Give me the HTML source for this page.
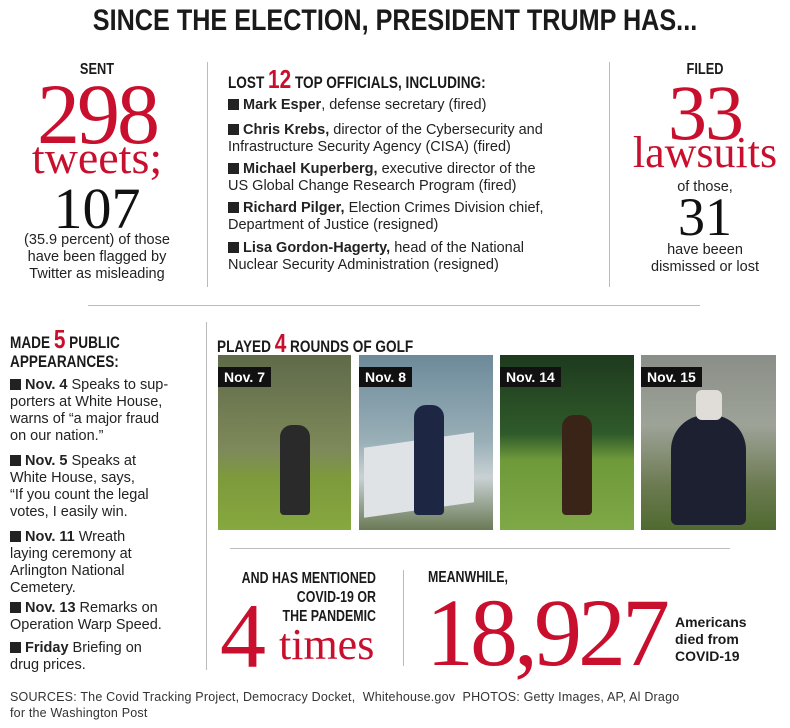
<!DOCTYPE html>
<html><head><meta charset="utf-8"><style>
body{margin:0;background:#fff;width:790px;height:728px;position:relative;overflow:hidden;font-family:"Liberation Sans",sans-serif;color:#222}
.a{position:absolute;white-space:nowrap}
.hd{font-family:"Liberation Sans",sans-serif;font-weight:bold;color:#1a1a1a;transform-origin:left top;transform:scaleX(0.8)}
.red{color:#c8102e}
.serif{font-family:"Liberation Serif",serif}
.t{font-size:14.5px;line-height:17px}
.sq{display:inline-block;width:11px;height:11px;background:#222;margin-right:4px;vertical-align:-1px}
.vl{position:absolute;width:1px;background:#bbb}
.hl{position:absolute;height:1px;background:#bbb}
.ph{position:absolute;top:355px;height:175px;overflow:hidden}
.lab{position:absolute;left:0;top:12px;background:#111;color:#fff;font-weight:bold;font-size:14px;padding:2px 6px}
</style></head><body>
<div class="a hd" style="left:0;width:790px;text-align:center;top:4px;font-size:30px;transform-origin:center top;transform:scaleX(0.84)">SINCE THE ELECTION, PRESIDENT TRUMP HAS...</div>

<div class="a hd" style="left:47px;width:100px;text-align:center;top:61px;font-size:16px;transform-origin:center top">SENT</div>
<div class="a serif red" style="left:17px;width:160px;text-align:center;top:71px;font-size:86px;line-height:86px;letter-spacing:-3px">298</div>
<div class="a serif red" style="left:17px;width:160px;text-align:center;top:135px;font-size:46px;line-height:46px">tweets;</div>
<div class="a serif" style="left:17px;width:160px;text-align:center;top:180px;font-size:58px;line-height:58px;color:#111">107</div>
<div class="a t" style="left:7px;width:180px;text-align:center;top:232px">(35.9 percent) of those<br>have been flagged by<br>Twitter as misleading</div>

<div class="vl" style="left:207px;top:62px;height:225px"></div>
<div class="vl" style="left:609px;top:62px;height:225px"></div>

<div class="a hd" style="left:228px;top:64px;font-size:17px">LOST <span class="red" style="font-size:26px">12</span> TOP OFFICIALS, INCLUDING:</div>
<div class="a t" style="left:228px;top:97px"><span class="sq"></span><b>Mark Esper</b>, defense secretary (fired)</div>
<div class="a t" style="left:228px;top:122px"><span class="sq"></span><b>Chris Krebs,</b> director of the Cybersecurity and<br>Infrastructure Security Agency (CISA) (fired)</div>
<div class="a t" style="left:228px;top:161px"><span class="sq"></span><b>Michael Kuperberg,</b> executive director of the<br>US Global Change Research Program (fired)</div>
<div class="a t" style="left:228px;top:200px"><span class="sq"></span><b>Richard Pilger,</b> Election Crimes Division chief,<br>Department of Justice (resigned)</div>
<div class="a t" style="left:228px;top:240px"><span class="sq"></span><b>Lisa Gordon-Hagerty,</b> head of the National<br>Nuclear Security Administration (resigned)</div>

<div class="a hd" style="left:655px;width:100px;text-align:center;top:61px;font-size:16px;transform-origin:center top">FILED</div>
<div class="a serif red" style="left:625px;width:160px;text-align:center;top:74px;font-size:78px;line-height:78px;letter-spacing:-2px">33</div>
<div class="a serif red" style="left:615px;width:180px;text-align:center;top:131px;font-size:44px;line-height:44px">lawsuits</div>
<div class="a t" style="left:625px;width:160px;text-align:center;top:179px">of those,</div>
<div class="a serif" style="left:625px;width:160px;text-align:center;top:190px;font-size:54px;line-height:54px;color:#111">31</div>
<div class="a t" style="left:615px;width:180px;text-align:center;top:242px">have beeen<br>dismissed or lost</div>

<div class="hl" style="left:88px;top:305px;width:612px"></div>

<div class="a hd" style="left:10px;top:330px;font-size:17px;line-height:19px">MADE <span class="red" style="font-size:26px">5</span> PUBLIC<br>APPEARANCES:</div>
<div class="a t" style="left:10px;top:377px"><span class="sq"></span><b>Nov. 4</b> Speaks to sup-<br>porters at White House,<br>warns of “a major fraud<br>on our nation.”</div>
<div class="a t" style="left:10px;top:453px"><span class="sq"></span><b>Nov. 5</b> Speaks at<br>White House, says,<br>“If you count the legal<br>votes, I easily win.</div>
<div class="a t" style="left:10px;top:529px"><span class="sq"></span><b>Nov. 11</b> Wreath<br>laying ceremony at<br>Arlington National<br>Cemetery.</div>
<div class="a t" style="left:10px;top:600px"><span class="sq"></span><b>Nov. 13</b> Remarks on<br>Operation Warp Speed.</div>
<div class="a t" style="left:10px;top:640px"><span class="sq"></span><b>Friday</b> Briefing on<br>drug prices.</div>

<div class="vl" style="left:206px;top:322px;height:348px"></div>

<div class="a hd" style="left:217px;top:328px;font-size:17px">PLAYED <span class="red" style="font-size:26px">4</span> ROUNDS OF GOLF</div>
<div class="ph" style="left:218px;width:133px;background:linear-gradient(#5f6a4a 0%,#7e8a5a 55%,#7d9a3c 70%,#86a83f 100%)"><div style="position:absolute;left:62px;top:70px;width:30px;height:90px;background:#2a2a2a;border-radius:12px 12px 4px 4px"></div><div class="lab">Nov. 7</div></div>
<div class="ph" style="left:359px;width:134px;background:linear-gradient(#6d8a9a 0%,#9ab0b8 50%,#c9d1d4 70%,#6a7a55 100%)"><div style="position:absolute;left:5px;top:85px;width:110px;height:70px;background:#dfe3e6;transform:skewY(-8deg)"></div><div style="position:absolute;left:55px;top:50px;width:30px;height:110px;background:#1d2744;border-radius:12px 12px 4px 4px"></div><div class="lab">Nov. 8</div></div>
<div class="ph" style="left:500px;width:134px;background:linear-gradient(#1e3a1e 0%,#2f5a2a 45%,#6f9a3a 60%,#7fa847 100%)"><div style="position:absolute;left:62px;top:60px;width:30px;height:100px;background:#3a2418;border-radius:12px 12px 4px 4px"></div><div class="lab">Nov. 14</div></div>
<div class="ph" style="left:641px;width:135px;background:linear-gradient(#8a8e88 0%,#9ea398 40%,#6b7a50 75%,#4f6a30 100%)"><div style="position:absolute;left:30px;top:60px;width:75px;height:110px;background:#1c2030;border-radius:35px 35px 6px 6px"></div><div style="position:absolute;left:55px;top:35px;width:26px;height:30px;background:#e0ddd8;border-radius:6px"></div><div class="lab">Nov. 15</div></div>

<div class="hl" style="left:230px;top:548px;width:500px"></div>

<div class="a hd" style="left:156px;width:220px;text-align:right;top:569px;font-size:15.5px;line-height:19px;transform-origin:right top">AND HAS MENTIONED<br>COVID-19 OR<br>THE PANDEMIC</div>
<div class="a serif red" style="left:220px;top:590px;font-size:92px;line-height:92px">4</div>
<div class="a serif red" style="left:279px;top:623px;font-size:44px;line-height:44px">times</div>

<div class="vl" style="left:403px;top:570px;height:96px"></div>

<div class="a hd" style="left:428px;top:569px;font-size:15.5px">MEANWHILE,</div>
<div class="a serif red" style="left:426px;top:585px;font-size:96px;line-height:96px;letter-spacing:-4px">18,927</div>
<div class="a" style="left:675px;top:614px;font-size:14px;line-height:17px;font-weight:bold;color:#1a1a1a">Americans<br>died from<br>COVID-19</div>

<div class="a" style="left:10px;top:689px;font-size:12.5px;line-height:16px;color:#333;letter-spacing:0.2px">SOURCES: The Covid Tracking Project, Democracy Docket,&nbsp; Whitehouse.gov&nbsp; PHOTOS: Getty Images, AP, Al Drago<br>for the Washington Post</div>
</body></html>
